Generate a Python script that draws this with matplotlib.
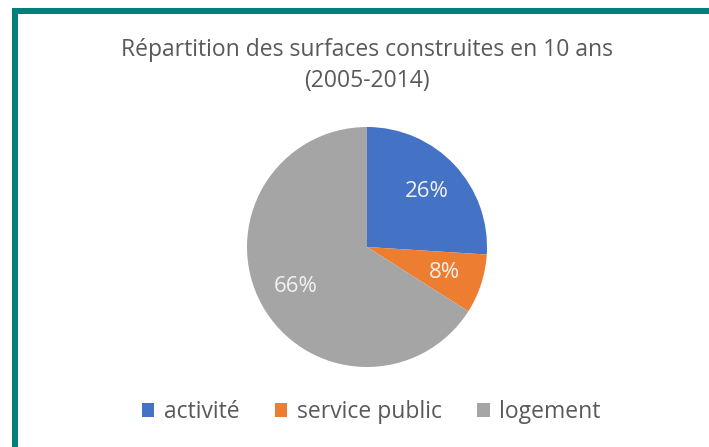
import matplotlib
matplotlib.use("Agg")
import matplotlib.pyplot as plt
from matplotlib.patches import Rectangle, Patch

# data
categories = ['activité', 'service public', 'logement']
values = [26, 8, 66]
colors = ['#4472C4', '#ED7D31', '#A5A5A5']
title_lines = ['Répartition des surfaces construites en 10 ans', '(2005-2014)']

plt.rcParams['font.family'] = ['Open Sans', 'DejaVu Sans']

W, H = 709, 447
fig = plt.figure(figsize=(W/100, H/100), dpi=100)
fig.patch.set_facecolor('white')

# teal frame (left + top only visible)
teal = '#00807A'
fig.add_artist(Rectangle((12/W, 0), 6/W, (H-8)/H, transform=fig.transFigure, color=teal, lw=0))
fig.add_artist(Rectangle((12/W, (H-14)/H), (W-12)/W, 6/H, transform=fig.transFigure, color=teal, lw=0))

ax = fig.add_axes([247/W, (H-367)/H, 240/W, 240/H])
wedges, texts, autotexts = ax.pie(values, colors=colors, startangle=90, counterclock=False,
                                  autopct='%d%%', pctdistance=0.68,
                                  wedgeprops=dict(linewidth=0))
for t in autotexts:
    t.set_color('#F2F2F2')
    t.set_fontsize(16)
ax.set_xlim(-1, 1)
ax.set_ylim(-1, 1)
ax.set_aspect('equal')

fig.text(367/W, 1-50/H, title_lines[0], ha='center', va='center', fontsize=16.5, color='#595959')
fig.text(367/W, 1-81/H, title_lines[1], ha='center', va='center', fontsize=16.5, color='#595959')

handles = [Patch(facecolor=c, edgecolor='none') for c in colors]
leg = fig.legend(handles, categories, loc='center', bbox_to_anchor=(371/W, 1-412/H),
                 ncol=3, frameon=False, fontsize=16.5, handlelength=0.55, handleheight=0.55,
                 handletextpad=0.4, columnspacing=1.55)
for t in leg.get_texts():
    t.set_color('#595959')

fig.savefig('out.png', dpi=100)
